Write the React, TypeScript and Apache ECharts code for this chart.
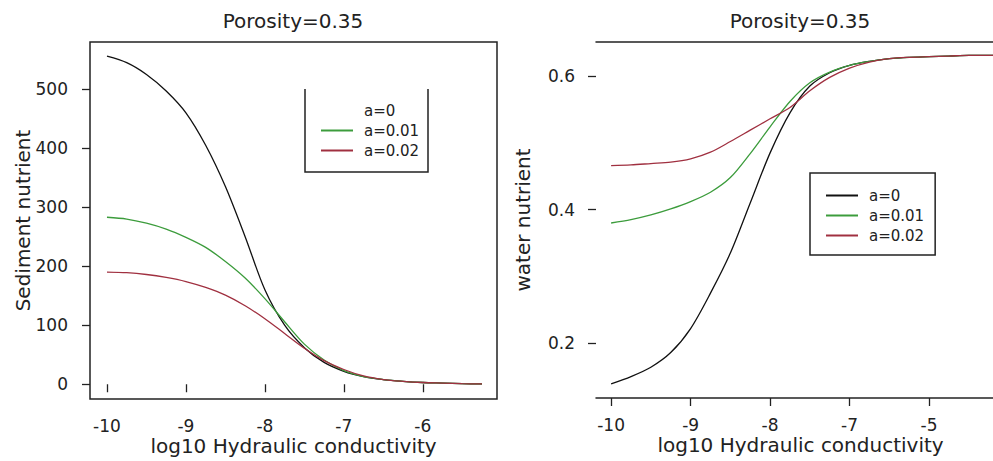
import React, { useEffect, useRef } from "react";
import * as echarts from "echarts";

// log10 hydraulic conductivity sample points
const kLeft = [-10, -9.75, -9.5, -9.25, -9, -8.75, -8.5, -8.25, -8, -7.75, -7.5, -7.25, -7, -6.75, -6.5, -6.25, -6, -5.75, -5.5, -5.25];
const kRight = [-10, -9.75, -9.5, -9.25, -9, -8.75, -8.5, -8.25, -8, -7.75, -7.5, -7.25, -7, -6.75, -6.5, -6.25, -6, -5.75, -5.5, -5.25, -5.0];

// Sediment nutrient (left panel)
const sedA0 = [556, 545, 525, 497, 460, 405, 335, 250, 160, 100, 62, 37, 22, 13, 8, 5, 3, 2, 1, 0.5];
const sedA1 = [283, 280, 273, 263, 249, 232, 208, 180, 145, 106, 68, 41, 23, 13, 8, 5, 3, 2, 1, 0.5];
const sedA2 = [190, 189, 186, 181, 174, 164, 151, 133, 111, 86, 61, 40, 25, 14, 8, 5, 3, 2, 1, 0.5];

// Water nutrient (right panel)
const watA0 = [0.139, 0.15, 0.164, 0.186, 0.222, 0.275, 0.335, 0.41, 0.485, 0.545, 0.585, 0.605, 0.616, 0.622, 0.626, 0.628, 0.629, 0.63, 0.631, 0.631, 0.631];
const watA1 = [0.38, 0.385, 0.392, 0.401, 0.412, 0.426, 0.448, 0.484, 0.524, 0.562, 0.59, 0.606, 0.616, 0.622, 0.626, 0.628, 0.629, 0.63, 0.631, 0.631, 0.631];
const watA2 = [0.466, 0.467, 0.469, 0.471, 0.476, 0.486, 0.502, 0.519, 0.536, 0.553, 0.578, 0.598, 0.612, 0.621, 0.626, 0.628, 0.629, 0.63, 0.631, 0.631, 0.631];

const seriesNames = ["a=0", "a=0.01", "a=0.02"];
const titleText = "Porosity=0.35";
const xName = "log10 Hydraulic conductivity";
const leftYName = "Sediment nutrient";
const rightYName = "water nutrient";

const xTickValues = [-10, -9, -8, -7, -6];
const leftXTickLabels = ["-10", "-9", "-8", "-7", "-6"];
const rightXTickLabels = ["-10", "-9", "-8", "-7", "-5"];
const leftYTicks = [0, 100, 200, 300, 400, 500];
const rightYTicks = [0.2, 0.4, 0.6];

const COLORS = ["#111111", "#3c9c3c", "#a03040"];
const FONT = "DejaVu Sans";
const TXT = "#222";

const pairs = (xs: number[], ys: number[]) => xs.map((x, i) => [x, ys[i]]);

export default function App() {
  const ref = useRef<HTMLDivElement>(null);

  useEffect(() => {
    if (!ref.current) return;
    const chart = echarts.init(ref.current, null, { renderer: "svg" });

    const tickLabelStyle = { fontFamily: FONT, fontSize: 17, lineHeight: 17, color: TXT };
    const nameStyle = { fontFamily: FONT, fontSize: 20, lineHeight: 20, color: TXT };

    const lineSeries = (name: string, data: number[][], idx: number, color: string) => ({
      type: "line",
      name,
      data,
      xAxisIndex: idx,
      yAxisIndex: idx,
      showSymbol: false,
      symbol: "none",
      smooth: 0.3,
      color,
      lineStyle: { width: 1.3, color },
      clip: true,
    });

    const option: any = {
      animation: false,
      backgroundColor: "#ffffff",
      title: [
        {
          text: titleText,
          left: 293,
          top: 11,
          padding: 0,
          textAlign: "center",
          textStyle: { fontFamily: FONT, fontSize: 20, fontWeight: "normal", color: TXT },
        },
        {
          text: titleText,
          left: 800,
          top: 11,
          padding: 0,
          textAlign: "center",
          textStyle: { fontFamily: FONT, fontSize: 20, fontWeight: "normal", color: TXT },
        },
      ],
      grid: [
        {
          left: 90,
          top: 42,
          width: 407,
          height: 357,
          show: true,
          borderColor: "#222",
          borderWidth: 1.5,
          backgroundColor: "transparent",
          containLabel: false,
          outerBoundsMode: "none",
        },
        {
          left: 596,
          top: 42,
          width: 409,
          height: 356,
          show: false,
          containLabel: false,
          outerBoundsMode: "none",
        },
      ],
      xAxis: [
        {
          type: "value",
          gridIndex: 0,
          min: -10.215,
          max: -5.06,
          name: xName,
          nameLocation: "middle",
          nameGap: 37,
          nameMoveOverlap: false,
          nameTextStyle: nameStyle,
          axisLine: { show: false },
          axisTick: { show: true, length: 8, customValues: xTickValues, lineStyle: { color: "#222", width: 1.3 } },
          axisLabel: {
            margin: 18,
            customValues: xTickValues,
            formatter: (v: number) => leftXTickLabels[xTickValues.indexOf(Math.round(v))] ?? "",
            ...tickLabelStyle,
          },
          splitLine: { show: false },
        },
        {
          type: "value",
          gridIndex: 1,
          min: -10.19,
          max: -5.045,
          name: xName,
          nameLocation: "middle",
          nameGap: 37,
          nameMoveOverlap: false,
          nameTextStyle: nameStyle,
          axisLine: { show: true, lineStyle: { color: "#222", width: 1.5 } },
          axisTick: { show: true, length: 8, customValues: xTickValues, lineStyle: { color: "#222", width: 1.3 } },
          axisLabel: {
            margin: 18,
            customValues: xTickValues,
            formatter: (v: number) => rightXTickLabels[xTickValues.indexOf(Math.round(v))] ?? "",
            ...tickLabelStyle,
          },
          splitLine: { show: false },
        },
        {
          type: "value",
          gridIndex: 1,
          position: "top",
          min: -10.19,
          max: -5.045,
          axisLine: { show: true, onZero: false, lineStyle: { color: "#222", width: 1.5 } },
          axisTick: { show: false },
          axisLabel: { show: false },
          splitLine: { show: false },
        },
      ],
      yAxis: [
        {
          type: "value",
          gridIndex: 0,
          min: -25,
          max: 580,
          name: leftYName,
          nameLocation: "middle",
          nameGap: 57,
          nameMoveOverlap: false,
          nameTextStyle: nameStyle,
          axisLine: { show: false },
          axisTick: { show: true, length: 8, customValues: leftYTicks, lineStyle: { color: "#222", width: 1.3 } },
          axisLabel: { margin: 22, customValues: leftYTicks, ...tickLabelStyle },
          splitLine: { show: false },
        },
        {
          type: "value",
          gridIndex: 1,
          min: 0.118,
          max: 0.651,
          name: rightYName,
          nameLocation: "middle",
          nameGap: 63,
          nameMoveOverlap: false,
          nameTextStyle: nameStyle,
          axisLine: { show: false },
          axisTick: { show: true, length: 8, customValues: rightYTicks, lineStyle: { color: "#222", width: 1.3 } },
          axisLabel: { margin: 21, customValues: rightYTicks, ...tickLabelStyle },
          splitLine: { show: false },
        },
      ],
      legend: [
        {
          orient: "vertical",
          left: 305,
          top: 89,
          padding: [14, 10, 15, 15],
          itemWidth: 32,
          itemHeight: 14,
          itemGap: 5,
          selectedMode: false,
          itemStyle: { opacity: 0 },
          textStyle: { fontFamily: FONT, fontSize: 15, color: TXT, padding: [0, 0, 0, 6] },
          data: [
            { name: seriesNames[0], itemStyle: { opacity: 0 }, lineStyle: { opacity: 0 } },
            { name: seriesNames[1] },
            { name: seriesNames[2] },
          ],
        },
        {
          orient: "vertical",
          left: 810,
          top: 173,
          padding: [15, 11, 12, 15],
          itemWidth: 32,
          itemHeight: 14,
          itemGap: 5,
          selectedMode: false,
          borderColor: "#222",
          borderWidth: 1.5,
          itemStyle: { opacity: 0 },
          textStyle: { fontFamily: FONT, fontSize: 15, color: TXT, padding: [0, 0, 0, 6] },
          data: seriesNames,
        },
      ],
      graphic: [
        {
          type: "polyline",
          z: 10,
          shape: { points: [[305, 89], [305, 172], [428, 172], [428, 89]] },
          style: { stroke: "#222", lineWidth: 1.5, fill: "none" },
        },
      ],
      series: [
        lineSeries(seriesNames[0], pairs(kLeft, sedA0), 0, COLORS[0]),
        lineSeries(seriesNames[1], pairs(kLeft, sedA1), 0, COLORS[1]),
        lineSeries(seriesNames[2], pairs(kLeft, sedA2), 0, COLORS[2]),
        lineSeries(seriesNames[0], pairs(kRight, watA0), 1, COLORS[0]),
        lineSeries(seriesNames[1], pairs(kRight, watA1), 1, COLORS[1]),
        lineSeries(seriesNames[2], pairs(kRight, watA2), 1, COLORS[2]),
      ],
    };

    chart.setOption(option);
    return () => {
      chart.dispose();
    };
  }, []);

  return (
    <div
      style={{
        position: "fixed",
        left: 0,
        top: 0,
        width: 993,
        height: 461,
        overflow: "hidden",
        background: "#fff",
      }}
    >
      <div ref={ref} style={{ width: 1020, height: 461 }} />
    </div>
  );
}
